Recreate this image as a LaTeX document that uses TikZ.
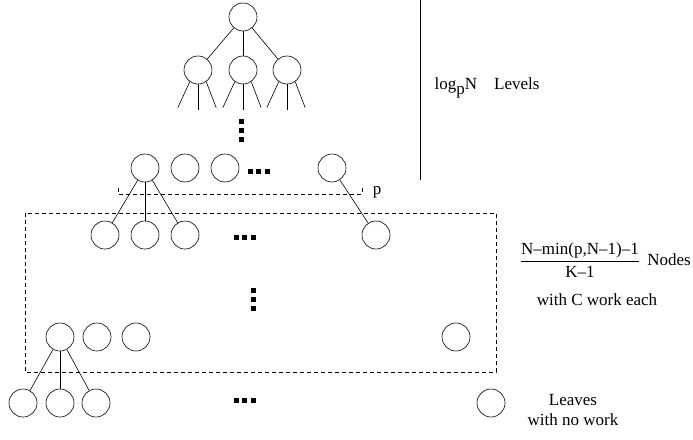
\documentclass[tikz,border=0pt]{standalone}
\usepackage{fontspec}
\setmainfont{Liberation Serif}
\usetikzlibrary{calc}

\begin{document}
\begin{tikzpicture}[x=1pt,y=-1pt,line width=0.6pt,
  font=\fontsize{17}{20}\selectfont,
  tnode/.style={draw,circle,minimum size=28pt,inner sep=0pt},
  dotted box/.style={dash pattern=on 4pt off 3pt}]
\useasboundingbox (0,0) rectangle (693,439);

% top tree
\begin{scope}
\node[tnode] (root) at (243,17) {};
\node[tnode] (t1) at (198,70) {};
\node[tnode] (t2) at (243,70) {};
\node[tnode] (t3) at (287,70) {};
\foreach \c in {t1,t2,t3}{%
\draw (root) -- (\c);
\draw (\c.235) -- ($(\c.235)+(-12,26)$);
\draw (\c.south) -- ($(\c.south)+(0,26)$);
\draw (\c.305) -- ($(\c.305)+(10,26)$);
}
\foreach \y in {121,130,139}{%
\fill (238.5,\y-2.5) rectangle ++(5,5);
}
\end{scope}

\draw (420,0) -- (420,180);
\node[anchor=west] (levels) at (431,88) {log\raisebox{-5pt}{p}N\quad Levels};

% internal levels
\begin{scope}
\node[tnode] (a1) at (145,168) {};
\node[tnode] (a2) at (185,168) {};
\node[tnode] (a3) at (225,168) {};
\node[tnode] (a4) at (332,168) {};
\foreach \x in {0,1,2}{%
\fill (247.5+8.5*\x,168.5) rectangle ++(5,5);
}
\draw[dotted box] (118,188) -- (118,194) -- (362,194) -- (362,188);
\node (p) at (377,192) {p};

\node[tnode] (b1) at (105,235) {};
\node[tnode] (b2) at (145,235) {};
\node[tnode] (b3) at (185,235) {};
\node[tnode] (b4) at (376,235) {};
\foreach \x in {0,1,2}{%
\fill (233.5+8.5*\x,234.5) rectangle ++(5,5);
}
\draw (a1) -- (b1);
\draw (a1) -- (b2);
\draw (a1) -- (b3);
\draw (a4) -- (b4);

\foreach \y in {290,299,308}{%
\fill (250.5,\y-2.5) rectangle ++(5,5);
}

\node[tnode] (c1) at (60,337) {};
\node[tnode] (c2) at (97,337) {};
\node[tnode] (c3) at (136,337) {};
\node[tnode] (c4) at (456,337) {};
\end{scope}

\draw[dotted box] (25,213) rectangle (496,372);

% leaves
\begin{scope}
\node[tnode] (d1) at (23,403) {};
\node[tnode] (d2) at (60,403) {};
\node[tnode] (d3) at (96,403) {};
\node[tnode] (d4) at (491,403) {};
\foreach \x in {0,1,2}{%
\fill (233.5+8.5*\x,398) rectangle ++(5,5);
}
\draw (c1) -- (d1);
\draw (c1) -- (d2);
\draw (c1) -- (d3);
\end{scope}

\node (frac) at (580,260) {$\displaystyle\frac{\mbox{N–min(p,N–1)–1}}{\mbox{K–1}}$};
\node[anchor=west] (nodes) at (frac.east) {Nodes};
\node (work) at (597,300) {with C work each};
\node[align=center] (leaves) at (573,410) {Leaves\\with no work};

\end{tikzpicture}
\end{document}
